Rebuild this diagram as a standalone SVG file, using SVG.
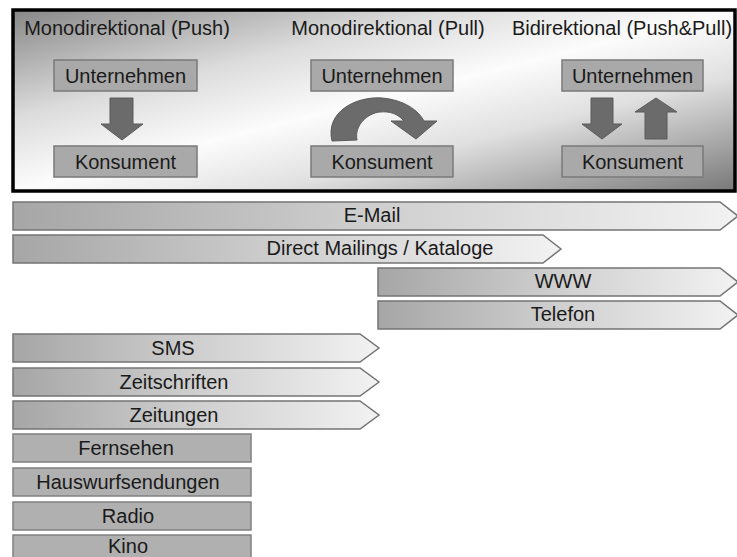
<svg xmlns="http://www.w3.org/2000/svg" width="737" height="557" viewBox="0 0 737 557">
  <defs>
    <linearGradient id="panelGrad" x1="0" y1="0" x2="1" y2="1">
      <stop offset="0" stop-color="#878787"/>
      <stop offset="0.3" stop-color="#dcdcdc"/>
      <stop offset="0.5" stop-color="#fcfcfc"/>
      <stop offset="0.68" stop-color="#e0e0e0"/>
      <stop offset="1" stop-color="#787878"/>
    </linearGradient>
    <linearGradient id="barGrad" x1="0" y1="0" x2="1" y2="0">
      <stop offset="0" stop-color="#a6a6a6"/>
      <stop offset="0.5" stop-color="#cfcfcf"/>
      <stop offset="1" stop-color="#f2f2f2"/>
    </linearGradient>
  </defs>
  <style>
    text { font-family: "Liberation Sans", Arial, sans-serif; font-size: 20px; fill: #1a1a1a; text-anchor: middle; }
    .box { fill: #a9a9a9; stroke: #7a7a7a; stroke-width: 1.5; }
    .arrow { fill: #6b6b6b; stroke: #5a5a5a; stroke-width: 1; }
    .bar { fill: url(#barGrad); stroke: #747474; stroke-width: 1.5; }
    .block { fill: #b0b0b0; stroke: #808080; stroke-width: 1.5; }
  </style>

  <!-- communication direction panel -->
  <g id="panel">
    <rect x="13" y="10" width="722" height="181" fill="url(#panelGrad)" stroke="#000" stroke-width="3.5"/>
    <text x="127" y="35">Monodirektional (Push)</text>
    <text x="388" y="35">Monodirektional (Pull)</text>
    <text x="622" y="35">Bidirektional (Push&amp;Pull)</text>
  </g>

  <g id="push-unternehmen"><rect class="box" x="54" y="60" width="143" height="31"/><text x="125.5" y="83">Unternehmen</text></g>
  <g id="push-konsument"><rect class="box" x="54" y="146" width="143" height="31"/><text x="125.5" y="169">Konsument</text></g>
  <g id="pull-unternehmen"><rect class="box" x="311" y="60" width="142" height="31"/><text x="382" y="83">Unternehmen</text></g>
  <g id="pull-konsument"><rect class="box" x="311" y="146" width="142" height="31"/><text x="382" y="169">Konsument</text></g>
  <g id="pp-unternehmen"><rect class="box" x="562" y="60" width="141" height="31"/><text x="632.5" y="83">Unternehmen</text></g>
  <g id="pp-konsument"><rect class="box" x="562" y="146" width="141" height="31"/><text x="632.5" y="169">Konsument</text></g>

  <!-- block arrows between company and consumer -->
  <g id="connectors">
    <path class="arrow" d="M110,98 H133 V124 H143 L122,140 L101,124 H110 Z"/>
    <path class="arrow" d="M332,141 C325,112 356,96 382,98 C404,100 418,110 424,121 L437,121 L416,139 L391,121 L404,121 C398,114 390,111 380,112 C368,113 354,125 357,140 Z"/>
    <path class="arrow" d="M591,98 H613 V124 H622 L602,139 L582,124 H591 Z"/>
    <path class="arrow" d="M645,139 H667 V112 H677 L656,98 L635,112 H645 Z"/>
  </g>

  <!-- media channels -->
  <g id="email"><path class="bar" d="M13,202 H720 L738,216 L720,230 H13 Z"/><text x="372" y="222">E-Mail</text></g>
  <g id="direct-mailings"><path class="bar" d="M13,235 H543 L561,249 L543,263 H13 Z"/><text x="380" y="255">Direct Mailings / Kataloge</text></g>
  <g id="www"><path class="bar" d="M378,268 H720 L738,282 L720,296 H378 Z"/><text x="563" y="288">WWW</text></g>
  <g id="telefon"><path class="bar" d="M378,301 H720 L738,315 L720,329 H378 Z"/><text x="563" y="321">Telefon</text></g>
  <g id="sms"><path class="bar" d="M13,334 H360 L379,348 L360,362 H13 Z"/><text x="173" y="355">SMS</text></g>
  <g id="zeitschriften"><path class="bar" d="M13,368 H360 L379,382 L360,396 H13 Z"/><text x="174" y="389">Zeitschriften</text></g>
  <g id="zeitungen"><path class="bar" d="M13,401 H360 L379,415 L360,429 H13 Z"/><text x="174" y="422">Zeitungen</text></g>
  <g id="fernsehen"><rect class="block" x="13" y="434" width="238" height="28"/><text x="126" y="455">Fernsehen</text></g>
  <g id="hauswurfsendungen"><rect class="block" x="13" y="468" width="238" height="28"/><text x="128" y="489">Hauswurfsendungen</text></g>
  <g id="radio"><rect class="block" x="13" y="502" width="238" height="28"/><text x="128" y="523">Radio</text></g>
  <g id="kino"><rect class="block" x="13" y="535" width="238" height="28"/><text x="128" y="553">Kino</text></g>
</svg>
